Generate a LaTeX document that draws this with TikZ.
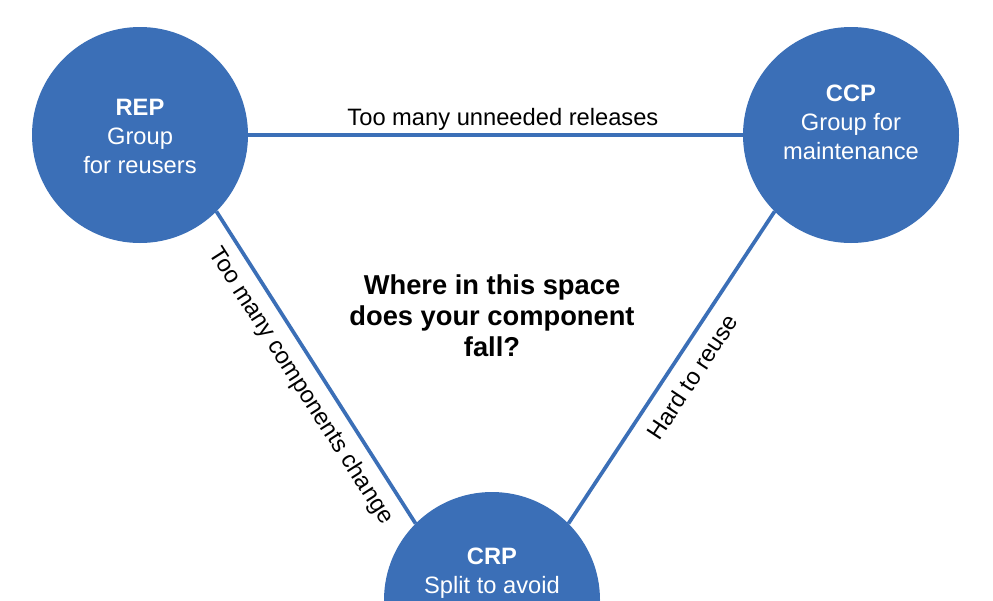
\documentclass[tikz,border=0pt]{standalone}
\usepackage{fontspec}
\setmainfont{Liberation Sans}
\definecolor{cblue}{RGB}{59,111,183}
\begin{document}
\begin{tikzpicture}[x=1pt,y=-1pt,
  bubble/.style={circle,fill=cblue,minimum size=216pt,inner sep=0pt,outer sep=0pt},
  intext/.style={text=white,align=center,font=\fontsize{23.7}{29}\selectfont,inner sep=0pt},
  conn/.style={draw=cblue,line width=3.7pt},
  edgelbl/.style={font=\fontsize{23.7}{29}\selectfont,inner sep=0pt,text=black},
  question/.style={align=center,font=\bfseries\fontsize{27.3}{31}\selectfont,inner sep=0pt}]
\useasboundingbox (0,0) rectangle (993,600);
\clip (0,0) rectangle (993,600);
\fill[white] (0,0) rectangle (993,600);
\node[bubble] (rep) at (140,135) {};
\node[bubble] (ccp) at (851,135) {};
\node[bubble] (crp) at (492,600) {};
\node[intext] (reptext) at (140,136) {\textbf{REP}\\Group\\for reusers};
\node[intext] (ccptext) at (851,122) {\textbf{CCP}\\Group for\\maintenance};
\node[intext] (crptext) at (492,573) {\textbf{CRP}\\Split to avoid};
\node[question] (q) at (492,316) {Where in this space\\does your component\\fall?};
\draw[conn] (rep.east) -- node[edgelbl,above=3pt,pos=0.515] (l1) {Too many unneeded releases} (ccp.west);
\draw[conn] (rep.-45) -- node[edgelbl,sloped,below=10pt,pos=0.52] (l2) {Too many components change} (crp.135);
\draw[conn] (crp.45) -- node[edgelbl,sloped,below=12pt,pos=0.51] (l3) {Hard to reuse} (ccp.-135);
\end{tikzpicture}
\end{document}
